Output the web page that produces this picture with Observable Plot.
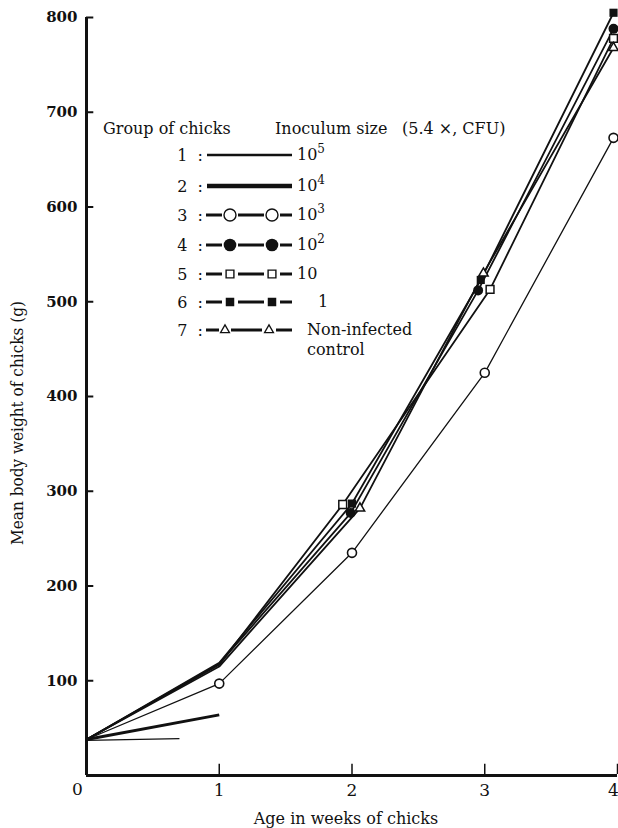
<!DOCTYPE html>
<html><head><meta charset="utf-8">
<script src="https://cdn.jsdelivr.net/npm/d3@7"></script>
<script src="https://cdn.jsdelivr.net/npm/@observablehq/plot@0.6"></script>
<style>
html,body{margin:0;padding:0;background:#fff}
#chart{width:618px;height:828px;position:relative;overflow:hidden}
svg{display:block}
</style></head><body><div id="chart"></div>
<script>
// ---- data ----
const g1Weeks = [0, 0.7];
const g1Weight = [37, 39];
const g2Weeks = [0, 1];
const g2Weight = [38, 64];
const g3Weeks = [0, 1, 2, 3, 3.97];
const g3Weight = [38, 97, 235, 425, 673];
const g4Weeks = [0, 1, 1.99, 2.95, 3.97];
const g4Weight = [38, 118, 277, 512, 788];
const g5Weeks = [0, 1, 1.93, 3.04, 3.97];
const g5Weight = [38, 117, 286, 513, 778];
const g6Weeks = [0, 1, 2.0, 2.97, 3.97];
const g6Weight = [38, 119, 287, 523, 805];
const g7Weeks = [0, 1, 2.06, 2.99, 3.97];
const g7Weight = [38, 115, 282, 530, 768];

const yTicks = [100, 200, 300, 400, 500, 600, 700, 800];
const xTicks = [1, 2, 3, 4];
const xTickLabels = ["0", "1", "2", "3", "4"];

const legendGroups = ["1 :", "2 :", "3 :", "4 :", "5 :", "6 :", "7 :"];
const legendBase = ["10", "10", "10", "10", "10", "1", "Non-infected"];
const legendSup = ["5", "4", "3", "2", "", "", ""];

const table = (w, v) => w.map((d, i) => ({week: d, weight: v[i]}));
const g1 = table(g1Weeks, g1Weight);
const g2 = table(g2Weeks, g2Weight);
const g3 = table(g3Weeks, g3Weight);
const g4 = table(g4Weeks, g4Weight);
const g5 = table(g5Weeks, g5Weight);
const g6 = table(g6Weeks, g6Weight);
const g7 = table(g7Weeks, g7Weight);
const xLabelRows = xTicks.slice(0, 3).map((t, i) => ({week: t, label: xTickLabels[i + 1]}));
const xLastRow = [{week: xTicks[3], label: xTickLabels[4]}];

const ink = "#111";
const lineOpts = (sw) => ({x: "week", y: "weight", stroke: ink, strokeWidth: sw, strokeLinejoin: "round", strokeLinecap: "butt"});

const svg = Plot.plot({
  width: 618,
  height: 828,
  marginLeft: 86,
  marginRight: 1,
  marginTop: 17,
  marginBottom: 53,
  x: {domain: [0, 4], axis: null},
  y: {domain: [0, 800], axis: null},
  style: {fontFamily: "DejaVu Serif", fontSize: "16px", background: "white", color: ink, overflow: "visible"},
  marks: [
    // axes
    Plot.ruleY([0], {stroke: ink, strokeWidth: 3}),
    Plot.ruleX([0], {stroke: ink, strokeWidth: 3}),
    Plot.ruleY(yTicks, {x1: 0, x2: 0.055, stroke: ink, strokeWidth: 2}),
    Plot.ruleX(xTicks, {y1: 1, y2: 12, stroke: ink, strokeWidth: 1.5}),
    Plot.text(yTicks, {x: 0, y: d => d, text: d => String(d), textAnchor: "end", dx: -9, fontSize: 15, fontWeight: "bold", fill: ink}),
    Plot.text(xTickLabels.slice(0, 1), {x: 0, y: 0, text: d => d, dx: -9, dy: 14, fontSize: 17, fill: ink}),
    Plot.text(xLabelRows, {x: "week", y: 0, text: "label", dy: 15, fontSize: 17, fill: ink}),
    Plot.text(xLastRow, {x: "week", y: 0, text: "label", dx: -4, dy: 15, fontSize: 17, fill: ink}),
    // lines
    Plot.line(g1, lineOpts(1.3)),
    Plot.line(g2, lineOpts(3)),
    Plot.line(g3, lineOpts(1.3)),
    Plot.line(g4, lineOpts(1.8)),
    Plot.line(g5, lineOpts(1.8)),
    Plot.line(g6, lineOpts(1.8)),
    Plot.line(g7, lineOpts(1.8)),
    // markers
    Plot.dot(g3.slice(1), {x: "week", y: "weight", symbol: "circle", r: 4.5, fill: "white", stroke: ink, strokeWidth: 1.6}),
    Plot.dot(g5.slice(2), {x: "week", y: "weight", symbol: "square", r: 4.4, fill: "white", stroke: ink, strokeWidth: 1.5}),
    Plot.dot(g7.slice(2), {x: "week", y: "weight", symbol: "triangle", r: 3.5, fill: "white", stroke: ink, strokeWidth: 1.5}),
    Plot.dot(g4.slice(2), {x: "week", y: "weight", symbol: "circle", r: 5, fill: ink, stroke: "none"}),
    Plot.dot(g6.slice(2), {x: "week", y: "weight", symbol: "square", r: 4.6, fill: ink, stroke: "none"})
  ]
});

// ---- legend and axis titles (layout only) ----
const s = d3.select(svg);
const font = "DejaVu Serif";
s.append("text").attr("x", 346).attr("y", 824).attr("text-anchor", "middle")
  .attr("font-family", font).attr("font-size", 16).attr("fill", ink).text("Age in weeks of chicks");
s.append("text").attr("transform", "translate(23,423) rotate(-90)").attr("text-anchor", "middle")
  .attr("font-family", "DejaVu Serif Condensed, DejaVu Serif").attr("font-stretch", "condensed")
  .attr("font-size", 17).attr("fill", ink).text("Mean body weight of chicks (g)");

const L = s.append("g").attr("font-family", font).attr("font-size", 16).attr("fill", ink).attr("text-anchor", "start");
L.append("text").attr("x", 103).attr("y", 134).text("Group of chicks");
const hdr = L.append("text").attr("x", 275).attr("y", 134).text("Inoculum size");
hdr.append("tspan").attr("x", 402).text("(5.4 ×, CFU)");

const rowY = [155, 186, 215, 245, 274, 302, 330];
const sym = (type, r) => d3.symbol(type, Math.PI * r * r)();
legendGroups.forEach((g, i) => {
  const y = rowY[i];
  L.append("text").attr("x", 203).attr("y", y + 6).attr("text-anchor", "end")
    .attr("word-spacing", 5).text(g);
  const tx = i === 5 ? 318 : (i === 6 ? 307 : 297);
  const t = L.append("text").attr("x", tx).attr("y", y + 5).text(legendBase[i]);
  if (legendSup[i]) t.append("tspan").attr("dy", -7).attr("font-size", 12).text(legendSup[i]);
  if (i === 6) L.append("text").attr("x", 307).attr("y", y + 25).text("control");
  if (i < 2) {
    L.append("line").attr("x1", 207).attr("x2", 292).attr("y1", y).attr("y2", y)
      .attr("stroke", ink).attr("stroke-width", i === 0 ? 2.5 : 4.5);
  } else {
    const segs = i === 6 ? [[206, 219], [231, 262], [276, 292]] : [[206, 222], [238, 264], [280, 292]];
    segs.forEach(([a, b]) => L.append("line").attr("x1", a).attr("x2", b).attr("y1", y).attr("y2", y)
      .attr("stroke", ink).attr("stroke-width", 3));
    const mx = i === 6 ? [225, 269] : [230, 272];
    mx.forEach(x => {
      let p;
      if (i === 2) p = L.append("path").attr("d", sym(d3.symbolCircle, 6)).attr("fill", "white").attr("stroke", ink).attr("stroke-width", 1.4);
      else if (i === 3) p = L.append("path").attr("d", sym(d3.symbolCircle, 6.3)).attr("fill", ink);
      else if (i === 4) p = L.append("path").attr("d", sym(d3.symbolSquare, 4.4)).attr("fill", "white").attr("stroke", ink).attr("stroke-width", 1.4);
      else if (i === 5) p = L.append("path").attr("d", sym(d3.symbolSquare, 4.8)).attr("fill", ink);
      else p = L.append("path").attr("d", sym(d3.symbolTriangle, 3.3)).attr("fill", "white").attr("stroke", ink).attr("stroke-width", 1.3);
      p.attr("transform", `translate(${x},${y})`);
    });
  }
});

document.getElementById("chart").appendChild(svg);
</script>
</body></html>
